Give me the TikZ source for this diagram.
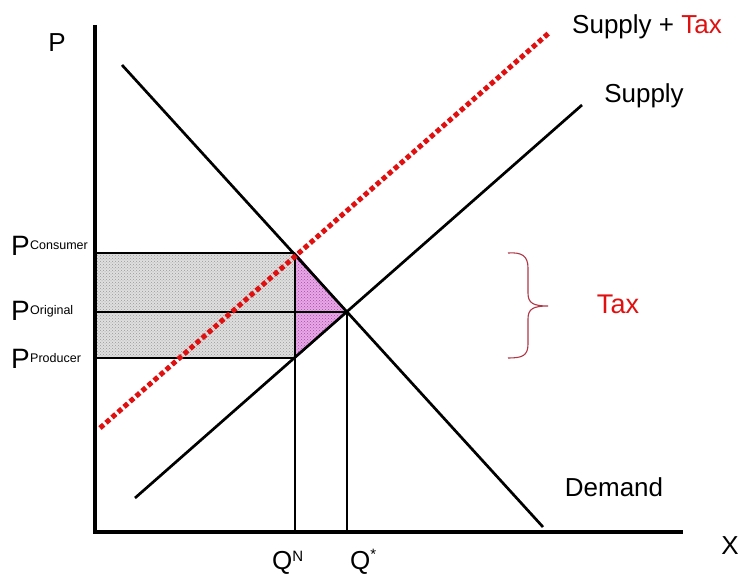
\documentclass[tikz,border=0pt]{standalone}
\usepackage{fontspec}
\setmainfont{Liberation Sans}
\usetikzlibrary{patterns}
\definecolor{taxred}{HTML}{E01010}
\definecolor{bracecol}{HTML}{B03545}
\definecolor{pinkfill}{HTML}{E8A8E8}
\begin{document}
\begin{tikzpicture}[x=1pt,y=-1pt,
  axis/.style={line width=3.6pt},
  curve/.style={line width=2.7pt},
  guide/.style={line width=2pt},
  taxline/.style={taxred,line width=5pt,dash pattern=on 5pt off 3pt},
  lab/.style={font=\fontsize{26}{30}\selectfont,inner sep=0pt},
  qlab/.style={font=\fontsize{26}{28}\selectfont,inner sep=0pt,anchor=base west},
  plab/.style={font=\fontsize{28}{30}\selectfont,inner sep=0pt,anchor=base west},
  sublab/.style={font=\fontsize{12.5}{14}\selectfont,inner sep=0pt,anchor=base west}]
\useasboundingbox (0,0) rectangle (740,575);
% key points
\coordinate (O) at (95,532);
\coordinate (Ytop) at (95,25);
\coordinate (Xend) at (683,532);
\coordinate (E) at (347,312);
\coordinate (C) at (295,253);
\coordinate (R) at (295,358);
\coordinate (Cl) at (95,253);
\coordinate (El) at (95,312);
\coordinate (Rl) at (95,358);
\coordinate (QN) at (295,532);
\coordinate (QS) at (347,532);
% shaded areas
\fill[gray!25] (Cl) rectangle (R);
\fill[pattern=crosshatch dots,pattern color=gray!80] (Cl) rectangle (R);
\fill[pinkfill] (C) -- (E) -- (R) -- cycle;
\fill[pattern=crosshatch dots,pattern color=violet!70] (C) -- (E) -- (R) -- cycle;
\draw[violet!70!black,line width=1.2pt] (C) -- (E) -- (R);
% guide lines
\draw[guide] (Cl) -- (C);
\draw[guide] (El) -- (E);
\draw[guide] (Rl) -- (R);
\draw[guide] (C) -- (QN);
\draw[guide] (E) -- (QS);
% curves
\coordinate (D1) at (122,65);
\coordinate (D2) at (543,527);
\coordinate (S1) at (135,498);
\coordinate (S2) at (582,105);
\coordinate (T1) at (100,428);
\coordinate (T2) at (550,32);
\draw[curve] (D1) -- (D2);
\draw[curve] (S1) -- (S2);
\draw[taxline] (T1) -- (T2);
% axes
\draw[axis] (Ytop) -- (O) -- (Xend);
% brace
\draw[bracecol,line width=1.1pt] (508,253) .. controls (522,252) and (528,256) .. (528,268) -- (528,293)
  .. controls (528,303) and (533,306) .. (548,306)
  .. controls (533,306) and (528,309) .. (528,319) -- (528,344)
  .. controls (528,356) and (522,358) .. (508,358);
% labels
\node[lab] (lp) at (57,43) {P};
\node[lab] (lx) at (730,546) {X};
\node[qlab] (lqn) at (272,569) {Q\raisebox{8pt}{\fontsize{15}{17}\selectfont N}};
\node[qlab] (lqs) at (350,569) {Q\raisebox{10pt}{\fontsize{15}{16}\selectfont *}};
\node[lab] (ldem) at (614,487) {Demand};
\node[lab] (lsup) at (644,96) {Supply};
\node[lab] (lst) at (647,27) {Supply + \textcolor{taxred}{Tax}};
\node[lab,text=taxred,font=\fontsize{27}{30}\selectfont] (ltax) at (618,304) {Tax};
\node[plab] (pc) at (11,255) {P};
\node[sublab] (pcs) at (30,250) {Consumer};
\node[plab] (po) at (11,320) {P};
\node[sublab] (pos) at (30,314) {Original};
\node[plab] (pp) at (11,368) {P};
\node[sublab] (pps) at (30,362) {Producer};
\end{tikzpicture}
\end{document}
